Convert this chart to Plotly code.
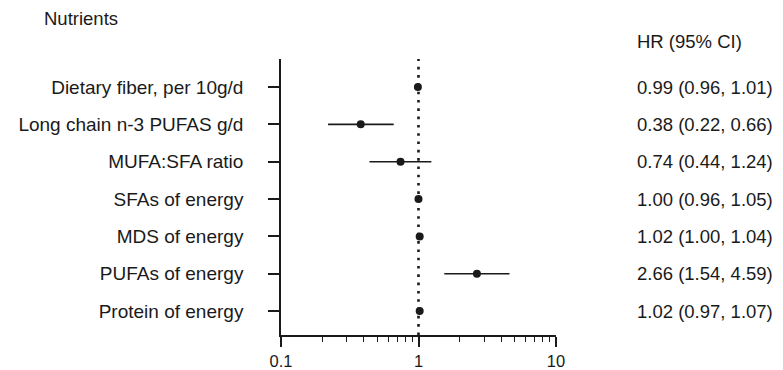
import plotly.graph_objects as go

nutrients = ["Dietary fiber, per 10g/d", "Long chain n-3 PUFAS g/d", "MUFA:SFA ratio",
             "SFAs of energy", "MDS of energy", "PUFAs of energy", "Protein of energy"]
hr = [0.99, 0.38, 0.74, 1.00, 1.02, 2.66, 1.02]
ci_low = [0.96, 0.22, 0.44, 0.96, 1.00, 1.54, 0.97]
ci_high = [1.01, 0.66, 1.24, 1.05, 1.04, 4.59, 1.07]
hr_labels = ["0.99 (0.96, 1.01)", "0.38 (0.22, 0.66)", "0.74 (0.44, 1.24)",
             "1.00 (0.96, 1.05)", "1.02 (1.00, 1.04)", "2.66 (1.54, 4.59)",
             "1.02 (0.97, 1.07)"]
x_ticks = [0.1, 1, 10]
x_ticktext = ["0.1", "1", "10"]
minor_ticks = [0.2, 0.3, 0.4, 0.5, 0.6, 0.7, 0.8, 0.9, 2, 3, 4, 5, 6, 7, 8, 9]

FONT = "Liberation Sans, Arial, sans-serif"
INK = "#1a1a1a"
rows = list(range(len(nutrients)))

fig = go.Figure()
fig.add_trace(go.Scatter(
    x=hr, y=rows, mode="markers",
    marker=dict(color=INK, size=8),
    error_x=dict(type="data", symmetric=False,
                 array=[h - v for h, v in zip(ci_high, hr)],
                 arrayminus=[v - l for v, l in zip(hr, ci_low)],
                 color=INK, thickness=1.6, width=0),
    cliponaxis=False, showlegend=False, hoverinfo="skip"))

fig.add_shape(type="line", xref="x", yref="paper", x0=1, x1=1, y0=0, y1=1,
              line=dict(color=INK, width=2.6, dash="2.6px,5.7px"), layer="below")

for i, t in enumerate(hr_labels):
    fig.add_annotation(x=1.287, xref="paper", y=i, yref="y", text=t,
                       showarrow=False, xanchor="left", yanchor="middle",
                       font=dict(family=FONT, size=18.5, color=INK))

fig.add_annotation(x=1.287, xref="paper", y=1.062, yref="paper", text="HR (95% CI)",
                   showarrow=False, xanchor="left", yanchor="middle",
                   font=dict(family=FONT, size=18.5, color=INK))
fig.add_annotation(x=-0.869, xref="paper", y=1.145, yref="paper", text="Nutrients",
                   showarrow=False, xanchor="left", yanchor="middle",
                   font=dict(family=FONT, size=18.5, color=INK))

fig.update_layout(
    width=775, height=362,
    margin=dict(l=273, r=227, t=51, b=35, autoexpand=False),
    paper_bgcolor="white", plot_bgcolor="white",
    font=dict(family=FONT, color=INK),
    xaxis=dict(type="log", range=[-1, 1], tickvals=x_ticks, ticktext=x_ticktext,
               ticks="outside", ticklen=10, tickwidth=1.5, tickcolor=INK,
               showline=True, linecolor=INK, linewidth=1.6,
               showgrid=False, zeroline=False, ticklabelstandoff=0,
               tickfont=dict(family=FONT, size=16.5, color=INK),
               minor=dict(tickvals=minor_ticks, ticks="outside", ticklen=5,
                          tickwidth=1.3, tickcolor=INK, showgrid=False)),
    yaxis=dict(range=[6.64, -0.75], tickvals=rows, ticktext=nutrients,
               ticks="outside", ticklen=11, tickwidth=1.5, tickcolor=INK,
               showline=True, linecolor=INK, linewidth=1.6,
               showgrid=False, zeroline=False, ticklabelstandoff=21,
               tickfont=dict(family=FONT, size=19, color=INK)),
)

fig.write_html("out.html")
